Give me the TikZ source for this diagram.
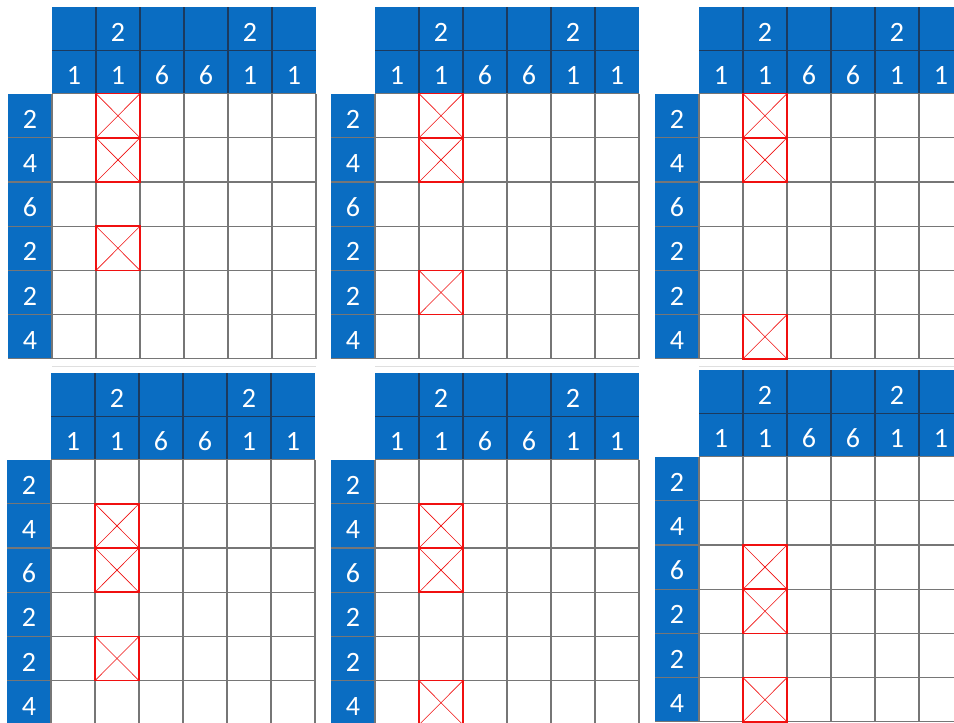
\documentclass[tikz,border=0pt]{standalone}
\usepackage{fontspec}
\setmainfont{Carlito}
\definecolor{hdrblue}{HTML}{0A6DC2}
\definecolor{hdrline}{HTML}{1C3A5E}
\definecolor{gridgray}{HTML}{767676}
\definecolor{xred}{HTML}{F01010}
\newcommand\cw{44}
\newcommand\ch{44.2}
\newcommand\hh{43.3}
\tikzset{
  num/.style={text=white, font=\fontsize{28}{28}\selectfont, inner sep=0pt, anchor=center, yshift=-3.5pt},
  gridline/.style={draw=gridgray, line width=1.3pt},
  hdrlines/.style={draw=hdrline, line width=1.2pt},
  xbox/.style={draw=xred, line width=1.5pt},
  xdiag/.style={draw=xred, line width=0.6pt},
  shadowline/.style={draw=gray!25, line width=1pt}
}
\newcommand\puzzle[4]{%
  \begin{scope}[shift={(#2,#3)}]
    \fill[hdrblue] (0,0) rectangle (6*\cw,2*\hh);
    \fill[hdrblue] (-\cw,2*\hh) rectangle (0,2*\hh+6*\ch);
    \fill[white] (0,2*\hh) rectangle (6*\cw,2*\hh+6*\ch);
    \foreach \j in {1,...,5} {\draw[hdrlines] (\j*\cw,0) -- (\j*\cw,2*\hh);}
    \draw[hdrlines] (0,\hh) -- (6*\cw,\hh);
    \draw[gridline] (0,2*\hh) -- (6*\cw,2*\hh);
    \foreach \i in {1,...,6} {\draw[gridline] (-\cw,2*\hh+\i*\ch) -- (6*\cw,2*\hh+\i*\ch);}
    \foreach \j in {0,...,6} {\draw[gridline] (\j*\cw,2*\hh) -- (\j*\cw,2*\hh+6*\ch);}
    \draw[shadowline] (0,2*\hh+6*\ch+8) -- (6*\cw,2*\hh+6*\ch+8);
    \foreach \r in {#4} {
      \draw[xdiag] (\cw,2*\hh+\r*\ch-\ch) -- (2*\cw,2*\hh+\r*\ch);
      \draw[xdiag] (2*\cw,2*\hh+\r*\ch-\ch) -- (\cw,2*\hh+\r*\ch);
      \draw[xbox] (\cw,2*\hh+\r*\ch-\ch) rectangle (2*\cw,2*\hh+\r*\ch);
    }
    \node[num] (#1-t2) at (1.5*\cw,0.5*\hh) {2};
    \node[num] (#1-t5) at (4.5*\cw,0.5*\hh) {2};
    \foreach \v [count=\j] in {1,1,6,6,1,1} {\node[num] (#1-b\j) at (\j*\cw-0.5*\cw,1.5*\hh) {\v};}
    \foreach \v [count=\i] in {2,4,6,2,2,4} {\node[num] (#1-r\i) at (-0.5*\cw,2*\hh+\i*\ch-0.5*\ch) {\v};}
  \end{scope}}
\begin{document}
\begin{tikzpicture}[x=1pt,y=-1pt]
  \useasboundingbox (0,0) rectangle (954,723);
  \clip (0,0) rectangle (954,723);
  \fill[white] (0,0) rectangle (954,723);
  \puzzle{A}{52}{7}{1,2,4}
  \puzzle{B}{375}{7}{1,2,5}
  \puzzle{C}{699}{7}{1,2,6}
  \puzzle{D}{51}{373}{2,3,5}
  \puzzle{E}{375}{373}{2,3,6}
  \puzzle{F}{699}{370}{3,4,6}
\end{tikzpicture}
\end{document}
